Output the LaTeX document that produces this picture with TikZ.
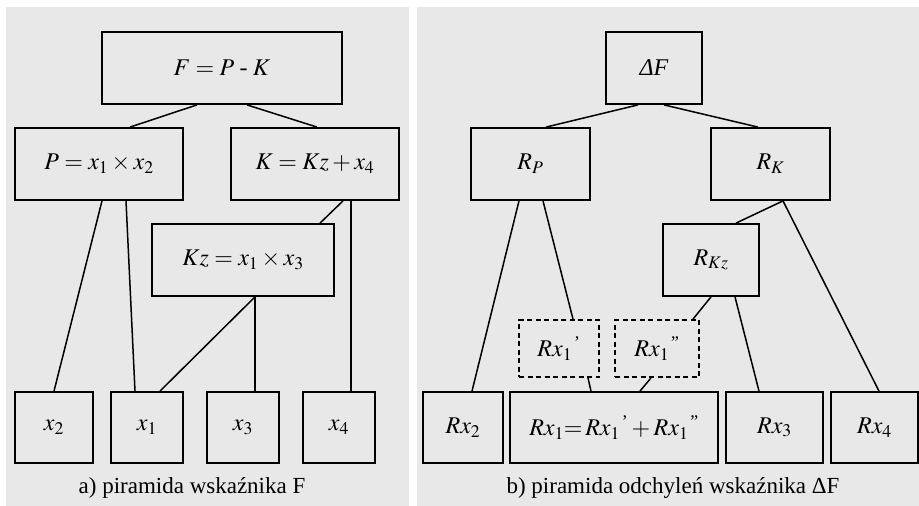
\documentclass[tikz,border=0pt]{standalone}
\usepackage{amsmath}
\usepackage{mathptmx}
\usepackage{fontspec}
\setmainfont{Liberation Serif}
\usepackage{tikz}
\usepackage{xcolor}
\definecolor{tlopanel}{RGB}{232,232,232}
\tikzset{
    blok/.style={draw=black, line width=1.8pt, inner sep=0pt, minimum height=72pt, font=\fontsize{24}{28}\selectfont},
    blokprzer/.style={draw=black, line width=1.8pt, dash pattern=on 5pt off 3.5pt, inner sep=0pt, minimum height=57pt, font=\fontsize{24}{28}\selectfont},
    polacz/.style={draw=black, line width=1.5pt},
    podpis/.style={inner sep=0pt, font=\fontsize{23}{27}\selectfont}
}

\begin{document}
\begin{tikzpicture}[x=1pt, y=-1pt]
    \useasboundingbox (0,0) rectangle (919,506);
    \fill[tlopanel] (6,7) rectangle (409,506);
    \fill[tlopanel] (417,7) rectangle (919,506);

    % a) piramida wskaznika F
    \node[blok, minimum width=240pt] (F) at (222,68) {$F = P \;\text{-}\; K$};
    \node[blok, minimum width=168pt] (P) at (99,164) {$P = x_1 \times x_2$};
    \node[blok, minimum width=168pt] (K) at (315,164) {$K = Kz + x_4$};
    \node[blok, minimum width=182pt] (Kz) at (243,260) {$Kz = x_1 \times x_3$};
    \node[blok, minimum width=78pt, minimum height=71pt] (x2) at (54,427.5) {$x_2$};
    \node[blok, minimum width=72pt, minimum height=71pt] (x1) at (147,427.5) {$x_1$};
    \node[blok, minimum width=72pt, minimum height=71pt] (x3) at (243,427.5) {$x_3$};
    \node[blok, minimum width=72pt, minimum height=71pt] (x4) at (339,427.5) {$x_4$};
    \node[podpis] (podpisA) at (192,488) {a) piramida wskaźnika F};

    \draw[polacz] ([xshift=-25pt]F.south) -- ([xshift=31pt]P.north);
    \draw[polacz] ([xshift=25pt]F.south) -- ([xshift=2pt]K.north);
    \draw[polacz] ([xshift=3pt]P.south) -- (x2.north);
    \draw[polacz] ([xshift=27pt]P.south) -- ([xshift=-12pt]x1.north);
    \draw[polacz] ([xshift=28pt]K.south) -- ([xshift=77pt]Kz.north);
    \draw[polacz] ([xshift=36pt]K.south) -- ([xshift=12pt]x4.north);
    \draw[polacz] ([xshift=12pt]Kz.south) -- ([xshift=13pt]x1.north);
    \draw[polacz] ([xshift=12pt]Kz.south) -- ([xshift=12pt]x3.north);

    % b) piramida odchylen wskaznika dF
    \node[blok, minimum width=96pt] (dF) at (654,68) {\textit{ΔF}};
    \node[blok, minimum width=119pt] (RP) at (530.5,164) {$R_P$};
    \node[blok, minimum width=119pt] (RK) at (770.5,164) {$R_K$};
    \node[blok, minimum width=96pt] (RKz) at (711,260) {$R_{Kz}$};
    \node[blokprzer, minimum width=80pt] (Rx1p) at (559,348.5) {$Rx_1{}^{\,\text{'}}$};
    \node[blokprzer, minimum width=84pt] (Rx1pp) at (657,348.5) {$Rx_1{}^{\,\text{''}}$};
    \node[blok, minimum width=80pt, minimum height=71pt] (Rx2) at (463,427.5) {$Rx_2$};
    \node[blok, minimum width=208pt, minimum height=71pt] (Rx1) at (614,427.5)
        {$Rx_1{=}\,Rx_1{}^{\,\text{'}} + Rx_1{}^{\,\text{''}}$};
    \node[blok, minimum width=97pt, minimum height=71pt] (Rx3) at (774.5,427.5) {$Rx_3$};
    \node[blok, minimum width=87pt, minimum height=71pt] (Rx4) at (874.5,427.5) {$Rx_4$};
    \node[podpis] (podpisB) at (673,488) {b) piramida odchyleń wskaźnika ΔF};

    \draw[polacz] ([xshift=-16pt]dF.south) -- ([xshift=15.5pt]RP.north);
    \draw[polacz] ([xshift=10pt]dF.south) -- ([xshift=-12.5pt]RK.north);
    \draw[polacz] ([xshift=-11.5pt]RP.south) -- ([xshift=9pt]Rx2.north);
    \draw[polacz] ([xshift=12.5pt]RP.south) -- ([xshift=14pt]Rx1p.north);
    \draw[polacz] ([xshift=12.5pt]RK.south) -- ([xshift=25pt]RKz.north);
    \draw[polacz] ([xshift=12.5pt]RK.south) -- ([xshift=4.5pt]Rx4.north);
    \draw[polacz] (RKz.south) -- ([xshift=36pt]Rx1pp.north);
    \draw[polacz] ([xshift=24pt]RKz.south) -- ([xshift=-15.5pt]Rx3.north);
    \draw[polacz] ([xshift=29pt]Rx1p.south) -- ([xshift=-23pt]Rx1.north);
    \draw[polacz] ([xshift=-6pt]Rx1pp.south) -- ([xshift=26pt]Rx1.north);
\end{tikzpicture}
\end{document}
